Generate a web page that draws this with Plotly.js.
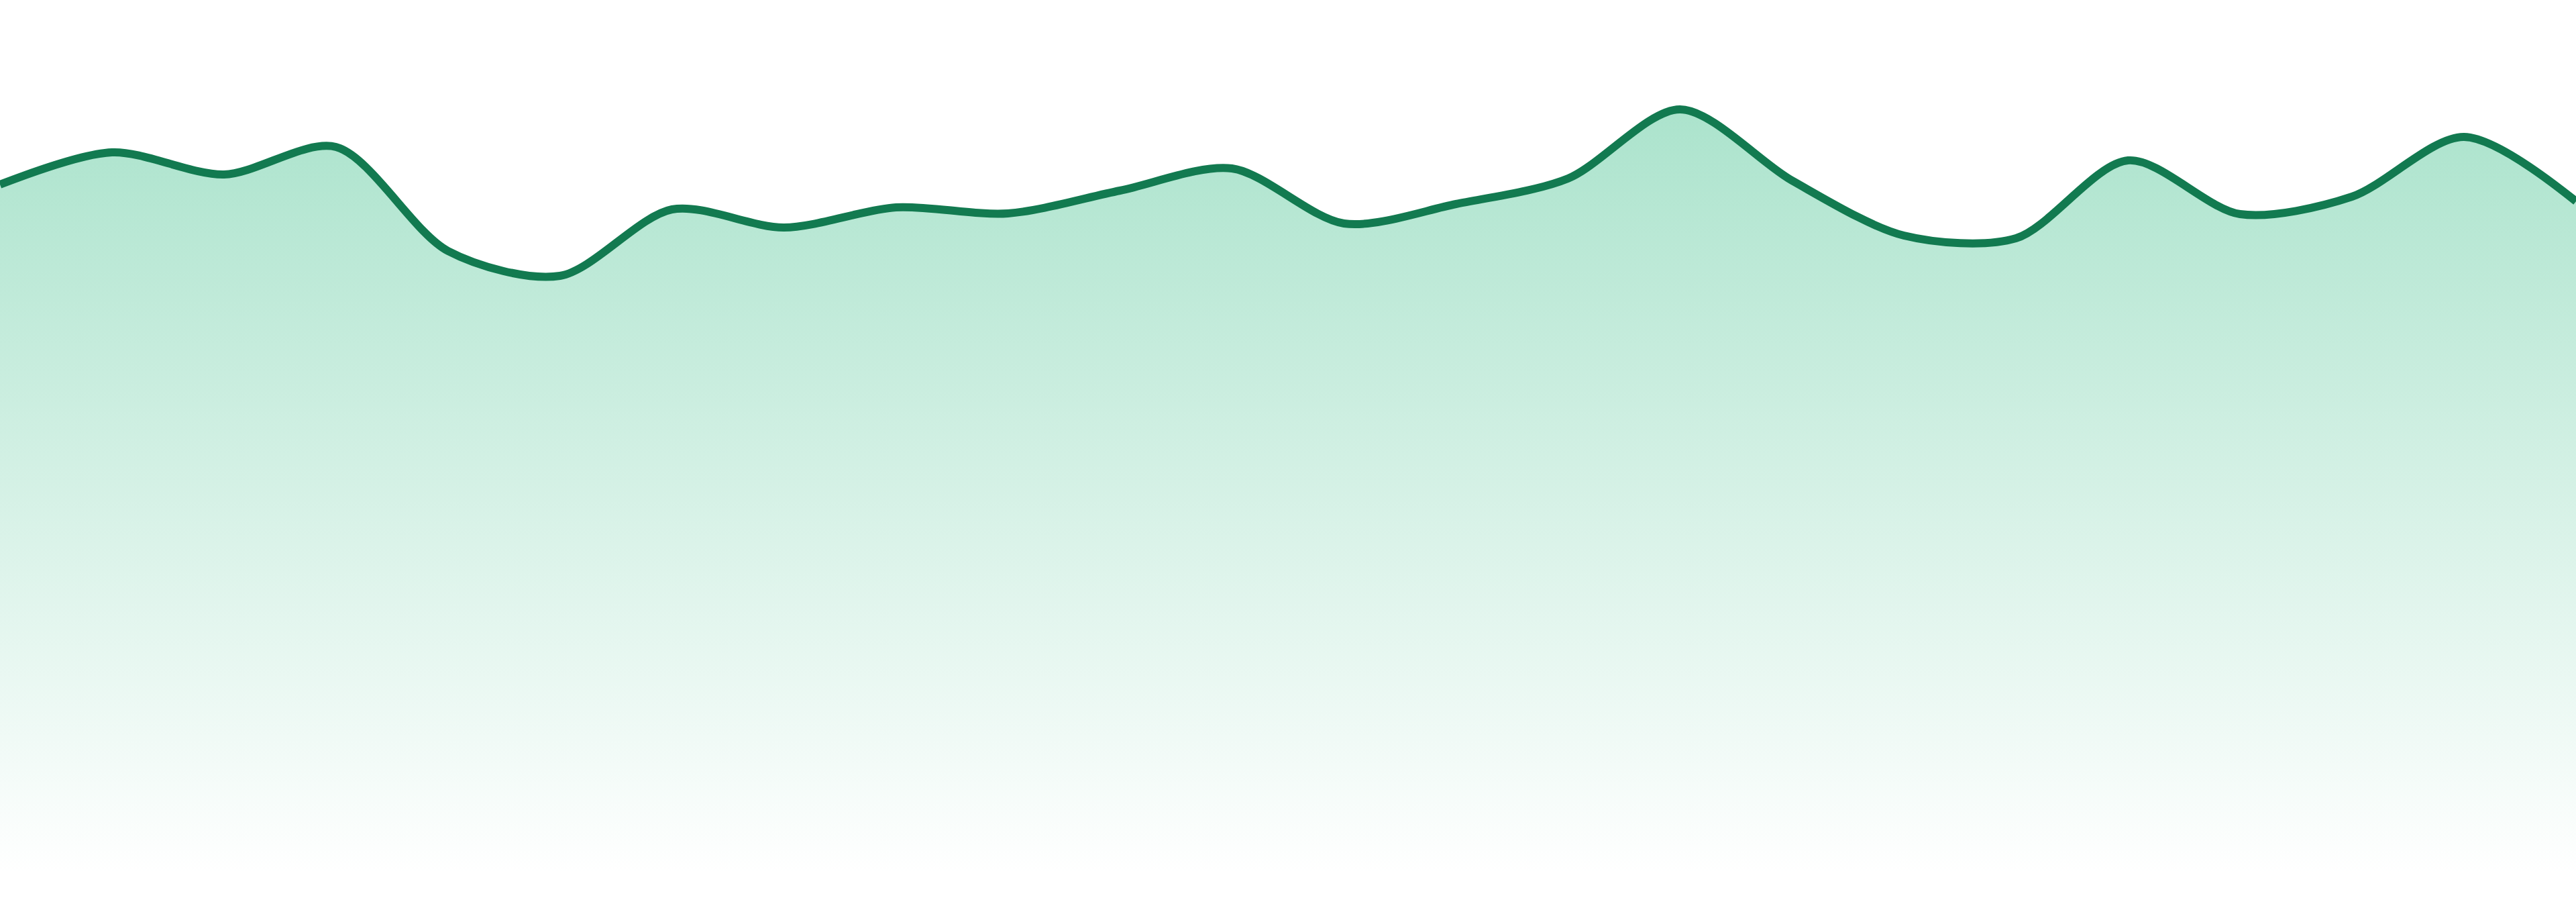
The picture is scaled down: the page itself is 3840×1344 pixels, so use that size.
<!DOCTYPE html>
<html>
<head>
<meta charset="utf-8">
<script src="https://cdn.plot.ly/plotly-3.0.1.min.js"></script>
<style>
  html, body { margin: 0; padding: 0; background: #ffffff; }
  #chart { width: 3840px; height: 1344px; }
</style>
</head>
<body>
<div id="chart"></div>
<script>
  // one value per step
  const steps = [0, 1, 2, 3, 4, 5, 6, 7, 8, 9, 10, 11, 12, 13, 14, 15, 16, 17, 18, 19, 20, 21, 22, 23];
  const values = [102.9, 107.7, 104.4, 108.5, 93.0, 89.3, 99.2, 96.5, 99.5, 98.6, 102.0, 105.3,
                  97.1, 100.0, 103.8, 114.1, 103.5, 95.3, 94.9, 106.5, 98.5, 101.1, 110.0, 100.4];

  const lineColor = "#127a50";

  const data = [
    {
      x: steps,
      y: values,
      type: "scatter",
      mode: "lines",
      line: { color: lineColor, width: 12, shape: "spline", smoothing: 0.85 },
      fill: "tozeroy",
      fillgradient: {
        type: "vertical",
        start: 0,
        stop: Math.max(...values),
        colorscale: [
          [0, "rgba(35,182,122,0)"],
          [1, "rgba(35,182,122,0.38)"]
        ]
      },
      hoverinfo: "skip"
    }
  ];

  const layout = {
    width: 3840,
    height: 1344,
    margin: { l: 0, r: 0, t: 0, b: 40 },
    paper_bgcolor: "#ffffff",
    plot_bgcolor: "#ffffff",
    showlegend: false,
    xaxis: { range: [0, 23], visible: false, fixedrange: true },
    yaxis: { range: [0, 130.4], visible: false, fixedrange: true }
  };

  Plotly.newPlot("chart", data, layout, { displayModeBar: false, staticPlot: true });
</script>
</body>
</html>
